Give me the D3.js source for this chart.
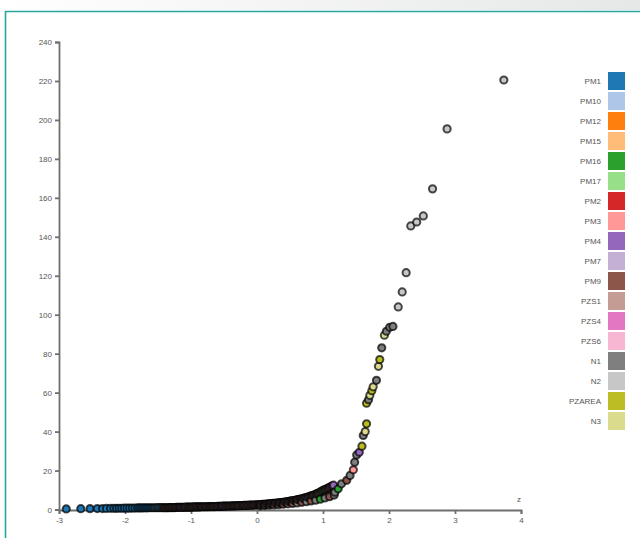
<!DOCTYPE html>
<html>
<head>
<meta charset="utf-8">
<script src="https://cdnjs.cloudflare.com/ajax/libs/d3/7.8.5/d3.min.js"></script>
<style>
  html, body { margin: 0; padding: 0; background: #fff; }
  svg { display: block; }
  .axis path, .axis line { stroke: #6f6f6f; stroke-width: 1.8; }
  .axis text { fill: #555; font-family: "Liberation Sans", Arial, sans-serif; font-size: 8px; }
  .legend text { fill: #555; font-family: "Liberation Sans", Arial, sans-serif; font-size: 8px; }
</style>
</head>
<body>
<svg id="chart" width="640" height="538"></svg>
<script>
// legend groups and their colours
const groups = ["PM1", "PM10", "PM12", "PM15", "PM16", "PM17", "PM2", "PM3", "PM4",
    "PM7", "PM9", "PZS1", "PZS4", "PZS6", "N1", "N2", "PZAREA", "N3"]
const colors = ["#1f77b4", "#aec7e8", "#ff7f0e", "#ffbb78", "#2ca02c", "#98df8a", "#d62728",
    "#ff9896", "#9467bd", "#c5b0d5", "#8c564b", "#c49c94", "#e377c2", "#f7b6d2",
    "#7f7f7f", "#c7c7c7", "#bcbd22", "#dbdb8d"]

const xTicks = [-3, -2, -1, 0, 1, 2, 3, 4]
const yTicks = [0, 20, 40, 60, 80, 100, 120, 140, 160, 180, 200, 220, 240]

// [z, value, group]
const lowTail = [
    [-2.89, 0.3, "PM1"], [-2.67, 0.4, "PM1"], [-2.53, 0.45, "PM1"], [-2.42, 0.5, "PM1"],
    [-2.34, 0.5, "PM1"], [-2.28, 0.55, "PM1"], [-2.22, 0.6, "PM1"], [-2.17, 0.6, "PM1"],
    [-2.13, 0.6, "PM1"], [-2.09, 0.65, "PM1"], [-2.05, 0.65, "PM1"], [-2.01, 0.7, "PM1"],
    [-1.97, 0.7, "PM1"], [-1.93, 0.7, "PM1"], [-1.89, 0.75, "PM1"], [-1.85, 0.75, "PM1"],
    [-1.81, 0.8, "PM1"], [-1.78, 0.8, "PM1"], [-1.75, 0.8, "PM1"], [-1.72, 0.85, "PM1"],
    [-1.69, 0.85, "PM1"], [-1.66, 0.85, "PM1"], [-1.63, 0.9, "PM1"], [-1.60, 0.9, "PM1"],
    [-1.57, 0.9, "PM1"], [-1.54, 0.9, "N1"], [-1.51, 0.95, "PM1"], [-1.48, 0.95, "N1"],
    [-1.45, 0.95, "PM1"], [-1.42, 0.95, "N1"]
]

const body = [
    [-1.40, 0.9, "PM9"], [-1.36, 0.9, "N1"], [-1.32, 1.0, "PM9"], [-1.28, 1.0, "N1"],
    [-1.24, 1.0, "N1"], [-1.20, 1.1, "PM9"], [-1.16, 1.1, "N1"], [-1.12, 1.1, "PM4"],
    [-1.08, 1.2, "N1"], [-1.04, 1.2, "PM9"], [-1.00, 1.2, "PM9"], [-0.96, 1.3, "N1"],
    [-0.92, 1.3, "N1"], [-0.88, 1.3, "PM9"], [-0.84, 1.4, "PM9"], [-0.80, 1.4, "PM4"],
    [-0.76, 1.4, "N1"], [-0.72, 1.5, "PM9"], [-0.68, 1.5, "PM9"], [-0.64, 1.5, "N1"],
    [-0.60, 1.6, "N1"], [-0.56, 1.6, "PM9"], [-0.52, 1.7, "N1"], [-0.48, 1.7, "PM4"],
    [-0.44, 1.8, "PM9"], [-0.40, 1.8, "N1"], [-0.36, 1.9, "PM9"], [-0.32, 1.9, "PM9"],
    [-0.28, 2.0, "N1"], [-0.24, 2.0, "N1"], [-0.20, 2.1, "PM9"], [-0.16, 2.1, "N1"],
    [-0.12, 2.2, "PM4"], [-0.08, 2.2, "PM9"], [-0.04, 2.3, "N1"], [0.00, 2.4, "PM9"],
    [0.04, 2.5, "N1"], [0.08, 2.6, "N1"], [0.12, 2.7, "PM9"], [0.16, 2.8, "N1"],
    [0.20, 3.0, "PM9"], [0.24, 3.1, "N1"], [0.28, 3.2, "PM4"], [0.32, 3.4, "PM9"],
    [0.36, 3.5, "N1"], [0.40, 3.7, "PM9"], [0.44, 3.9, "N1"], [0.48, 4.1, "N1"],
    [0.52, 4.4, "PM9"], [0.56, 4.6, "N1"], [0.60, 4.9, "PM9"], [0.64, 5.2, "N1"],
    [0.68, 5.5, "PM9"], [0.72, 5.9, "N1"], [0.76, 6.3, "PM4"], [0.80, 6.7, "N1"],
    [0.84, 7.2, "PM9"], [0.88, 7.7, "N1"], [0.92, 8.3, "PM9"], [0.96, 9.0, "N1"],
    [1.00, 9.8, "PM16"], [1.04, 10.4, "N1"], [1.08, 11.0, "PM9"], [1.12, 11.8, "N1"],
    [1.16, 12.5, "PM4"]
]

const bodyMid = [
    [-1.38, 0.9, "N1"], [-1.34, 0.95, "PM9"], [-1.30, 1.0, "N1"], [-1.26, 1.0, "PM9"],
    [-1.22, 1.05, "N1"], [-1.18, 1.1, "PM9"], [-1.14, 1.1, "N1"], [-1.10, 1.15, "PM9"],
    [-1.06, 1.2, "N1"], [-1.02, 1.2, "PM9"], [-0.98, 1.25, "N1"], [-0.94, 1.3, "PM9"],
    [-0.90, 1.3, "N1"], [-0.86, 1.35, "PM9"], [-0.82, 1.4, "N1"], [-0.78, 1.4, "PM9"],
    [-0.74, 1.45, "N1"], [-0.70, 1.5, "PM9"], [-0.66, 1.5, "N1"], [-0.62, 1.55, "PM9"],
    [-0.58, 1.6, "N1"], [-0.54, 1.65, "PM9"], [-0.50, 1.7, "N1"], [-0.46, 1.75, "PM9"],
    [-0.42, 1.8, "N1"], [-0.38, 1.85, "PM9"], [-0.34, 1.9, "N1"], [-0.30, 1.95, "PM9"],
    [-0.26, 2.0, "N1"], [-0.22, 2.05, "PM9"], [-0.18, 2.1, "N1"], [-0.14, 2.15, "PM9"],
    [-0.10, 2.2, "N1"], [-0.06, 2.25, "PM9"], [-0.02, 2.35, "N1"], [0.02, 2.45, "PM9"],
    [0.06, 2.55, "N1"], [0.10, 2.65, "PM9"], [0.14, 2.75, "N1"], [0.18, 2.9, "PM9"],
    [0.22, 3.05, "N1"], [0.26, 3.15, "PM9"], [0.30, 3.3, "N1"], [0.34, 3.45, "PM9"],
    [0.38, 3.6, "N1"], [0.42, 3.8, "PM9"], [0.46, 4.0, "N1"], [0.50, 4.25, "PM9"],
    [0.54, 4.5, "N1"], [0.58, 4.75, "PM9"], [0.62, 5.05, "N1"], [0.66, 5.35, "PM9"],
    [0.70, 5.7, "N1"], [0.74, 6.1, "PM9"], [0.78, 6.5, "N1"], [0.82, 6.95, "PM9"],
    [0.86, 7.45, "N1"], [0.90, 8.0, "PM9"], [0.94, 8.6, "N1"], [0.98, 9.4, "PM9"],
    [1.02, 10.1, "N1"], [1.06, 10.7, "PM9"], [1.10, 11.4, "N1"], [1.14, 12.1, "PM9"]
]

const lowerRow = [
    [0.05, 1.9, "N1"], [0.12, 2.0, "PM9"], [0.19, 2.2, "N1"], [0.26, 2.3, "PM9"],
    [0.33, 2.5, "N1"], [0.40, 2.7, "PM9"], [0.47, 2.9, "N1"], [0.54, 3.1, "PM9"],
    [0.61, 3.4, "N1"], [0.68, 3.7, "PM9"], [0.75, 4.0, "N1"], [0.82, 4.4, "PM9"],
    [0.89, 4.8, "N1"], [0.96, 5.3, "PM16"], [1.03, 5.9, "N1"], [1.10, 6.6, "PM9"],
    [1.17, 7.4, "N1"]
]

const upperTail = [
    [1.18, 8.9, "N1"], [1.23, 10.6, "PM16"], [1.28, 13.2, "N1"], [1.36, 15.0, "PM9"],
    [1.41, 17.5, "N1"], [1.46, 20.4, "PM3"], [1.48, 24.3, "N1"], [1.51, 28.0, "N1"],
    [1.55, 29.4, "PM4"], [1.59, 32.5, "PZAREA"], [1.61, 38.0, "N1"], [1.64, 40.0, "N3"],
    [1.66, 44.0, "PZAREA"], [1.66, 54.6, "PZAREA"], [1.69, 56.4, "N1"], [1.71, 58.6, "N3"],
    [1.74, 61.0, "PZAREA"], [1.76, 63.0, "N3"], [1.81, 66.3, "N1"], [1.84, 73.5, "N3"],
    [1.86, 77.0, "PZAREA"], [1.89, 83.0, "N1"], [1.93, 89.5, "N3"], [1.96, 91.5, "N1"],
    [2.01, 93.5, "N1"], [2.06, 94.0, "N1"], [2.14, 104.0, "N2"], [2.20, 111.7, "N2"],
    [2.26, 121.6, "N2"], [2.33, 145.6, "N2"], [2.42, 147.6, "N2"], [2.52, 150.7, "N2"],
    [2.66, 164.6, "N2"], [2.88, 195.4, "N2"], [3.74, 220.5, "N2"]
]

const svg = d3.select("#chart")

// page frame: grey strip on top, teal border
const defs = svg.append("defs")
const grad = defs.append("linearGradient").attr("id", "topband")
grad.append("stop").attr("offset", "0%").attr("stop-color", "#ffffff")
grad.append("stop").attr("offset", "100%").attr("stop-color", "#e6e7e7")
svg.append("rect").attr("x", 0).attr("y", 0).attr("width", 640).attr("height", 10)
    .attr("fill", "url(#topband)")
svg.append("path")
    .attr("d", "M5.5,545 L5.5,11.5 L640,11.5")
    .attr("fill", "none")
    .attr("stroke", "#26a79a")
    .attr("stroke-width", 1.6)

const x = d3.scaleLinear().domain([-3, 4]).range([59, 521])
const y = d3.scaleLinear().domain([0, 240]).range([509.5, 42])
const color = d3.scaleOrdinal().domain(groups).range(colors)

svg.append("g")
    .attr("class", "axis")
    .attr("transform", "translate(0,510)")
    .call(d3.axisBottom(x).tickValues(xTicks).tickFormat(d => d).tickSize(4).tickSizeOuter(4).tickPadding(3))

svg.append("g")
    .attr("class", "axis")
    .attr("transform", "translate(59,0)")
    .call(d3.axisLeft(y).tickValues(yTicks).tickFormat(d => d).tickSize(4).tickSizeOuter(4).tickPadding(3))

svg.append("text")
    .attr("x", 521)
    .attr("y", 502)
    .attr("text-anchor", "end")
    .attr("fill", "#555")
    .attr("font-family", "Liberation Sans, Arial, sans-serif")
    .attr("font-size", "8px")
    .text("z")

// draw in order of z so the dense part overlaps evenly
const allPoints = lowTail.concat(body, bodyMid, lowerRow, upperTail)
    .sort((a, b) => a[0] - b[0])

svg.append("g").selectAll("circle")
    .data(allPoints)
    .enter().append("circle")
    .attr("cx", d => x(d[0]))
    .attr("cy", d => y(d[1]))
    .attr("r", 3.6)
    .attr("fill", d => color(d[2]))
    .attr("stroke", "#000")
    .attr("stroke-width", 2)
    .attr("stroke-opacity", 0.7)

// legend
const legend = svg.append("g").attr("class", "legend")
const item = legend.selectAll("g")
    .data(groups)
    .enter().append("g")
    .attr("transform", (d, i) => `translate(0,${72 + i * 20})`)

item.append("rect")
    .attr("x", 608)
    .attr("width", 17)
    .attr("height", 18)
    .attr("fill", d => color(d))

item.append("text")
    .attr("x", 601)
    .attr("y", 12)
    .attr("text-anchor", "end")
    .text(d => d)
</script>
</body>
</html>
